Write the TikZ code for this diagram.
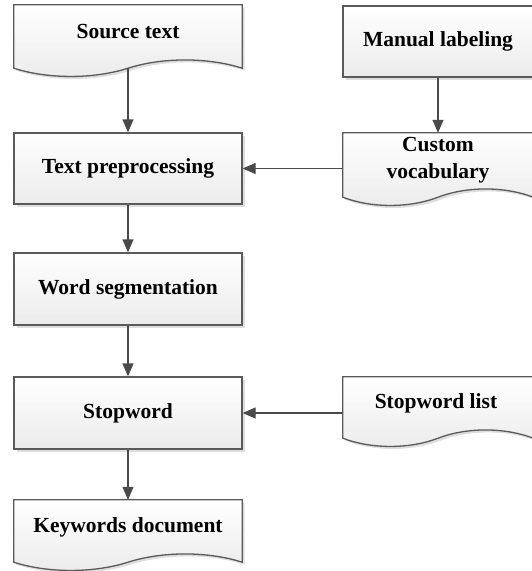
\documentclass[tikz,border=0pt]{standalone}
\usepackage{fontspec}
\setmainfont{Liberation Serif}
\usetikzlibrary{arrows.meta,calc,backgrounds,shadows}
\definecolor{edgec}{HTML}{5A5A5A}
\definecolor{arrc}{HTML}{4A4A4A}
\definecolor{fillbot}{HTML}{EBEBEB}
\definecolor{shadowc}{HTML}{C8C8C8}
\tikzset{
  shapestyle/.style={draw=edgec, line width=1.3pt, top color=white, bottom color=fillbot,
    drop shadow={shadow xshift=2.5pt, shadow yshift=-2.5pt, opacity=0.6, fill=shadowc}},
  boxnode/.style={shapestyle, minimum width=228pt, minimum height=71pt, inner sep=0pt,
    font=\fontsize{21.5}{27}\selectfont\bfseries},
  docnode/.style={minimum width=#1, inner sep=0pt},
  lbl/.style={font=\fontsize{21.5}{27}\selectfont\bfseries, align=center, inner sep=0pt},
  arr/.style={draw=arrc, line width=1.3pt, -{Triangle[length=13pt,width=11pt]}, arrc}
}
\newcommand\docoutline[1]{%
  \path[shapestyle] (#1.north west) -- (#1.north east) -- (#1.south east)
   .. controls ($(#1.south east)!0.3!(#1.south)+(0,11pt)$) and ($(#1.south east)!0.7!(#1.south)+(0,11pt)$) .. (#1.south)
   .. controls ($(#1.south)!0.3!(#1.south west)+(0,-11pt)$) and ($(#1.south)!0.7!(#1.south west)+(0,-11pt)$) .. (#1.south west) -- cycle;}
\begin{document}
\begin{tikzpicture}[x=1pt,y=-1pt]
\useasboundingbox (0,0) rectangle (532,571);
% left column
\node[docnode=228pt, minimum height=63pt, label={[lbl,yshift=4.5pt]center:Source text}] (src) at (128,36.5) {};
\node[boxnode] (tp) at (128,168.5) {Text preprocessing};
\node[boxnode, minimum height=72pt] (ws) at (128,289) {Word segmentation};
\node[boxnode, minimum height=72pt] (sw) at (128,413) {Stopword};
\node[docnode=228pt, minimum height=62pt, label={[lbl,yshift=4pt]center:Keywords document}] (kw) at (128,531) {};
% right column
\node[boxnode, minimum width=190pt] (ml) at (438,41.5) {Manual labeling};
\node[docnode=190pt, minimum height=64pt, label={[lbl,yshift=4.5pt]center:Custom\\vocabulary}] (cv) at (438,165) {};
\node[docnode=190pt, minimum height=61pt, label={[lbl,yshift=4.5pt,xshift=-2pt]center:Stopword list}] (sl) at (438,407.5) {};
\begin{scope}[on background layer]
  \docoutline{src}
  \docoutline{kw}
  \docoutline{cv}
  \docoutline{sl}
\end{scope}
% connectors
\draw[arr] (src.south) -- (tp.north);
\draw[arr] (tp.south) -- (ws.north);
\draw[arr] (ws.south) -- (sw.north);
\draw[arr] (sw.south) -- (kw.north);
\draw[arr] (ml.south) -- (cv.north);
\draw[arr] (cv.west |- tp.east) -- (tp.east);
\draw[arr] (sl.west |- sw.east) -- (sw.east);
\end{tikzpicture}
\end{document}
